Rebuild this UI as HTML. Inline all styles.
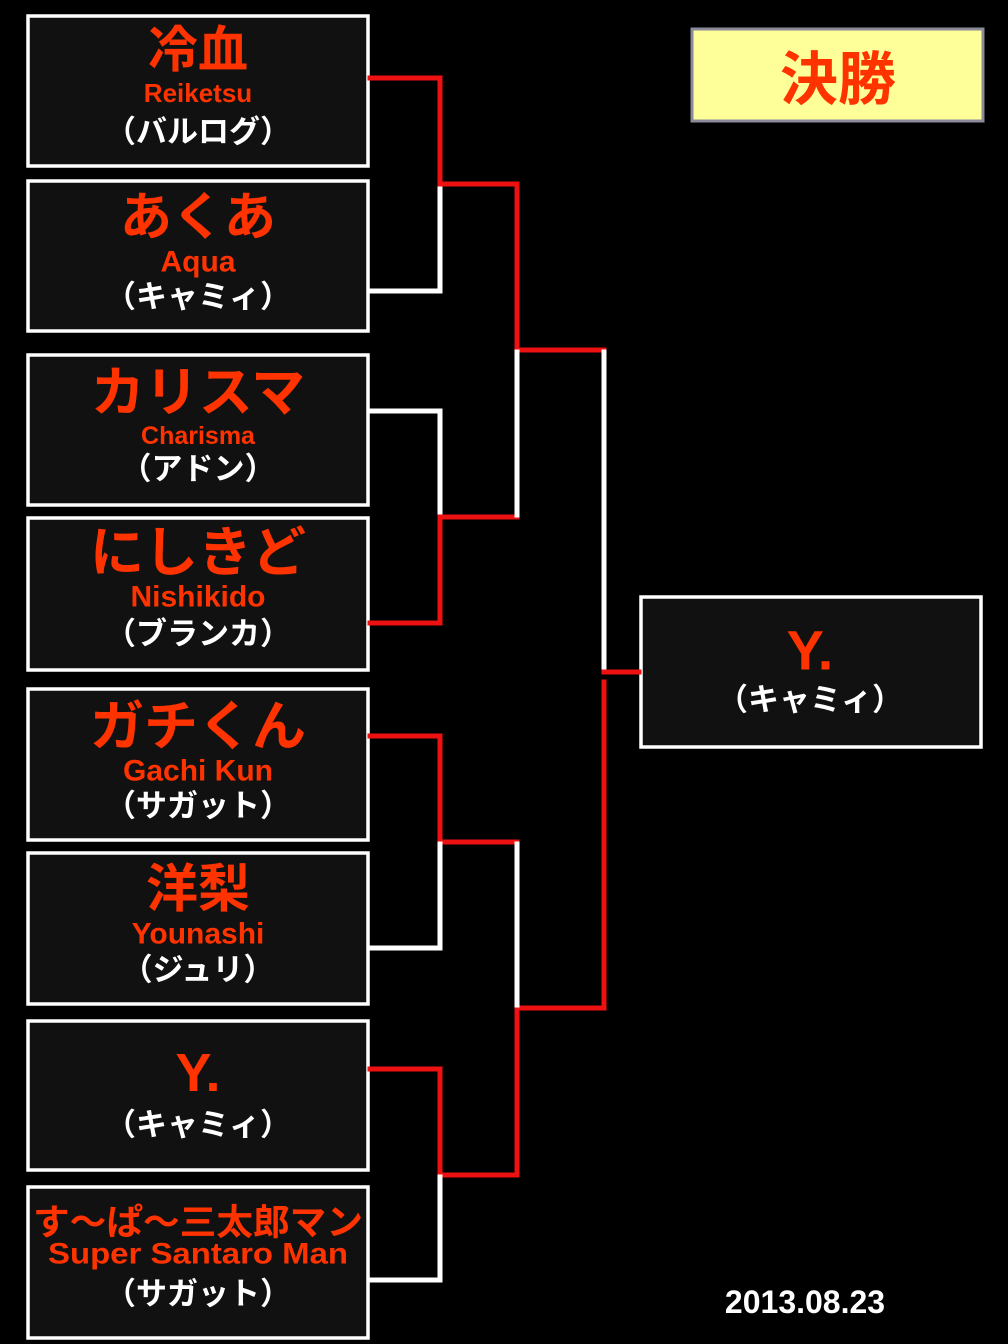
<!DOCTYPE html>
<html><head><meta charset="utf-8"><style>
html,body{margin:0;padding:0;background:#000;}
svg{display:block}
.j{font-family:"Liberation Sans","Noto Sans CJK JP",sans-serif;font-weight:700;fill:#ff3300}
.l{font-family:"Liberation Sans",sans-serif;font-weight:700;fill:#ff3300}
.w{font-family:"Liberation Sans","Noto Sans CJK JP",sans-serif;font-weight:700;fill:#fff}
</style></head><body>
<svg width="1008" height="1344" viewBox="0 0 1008 1344" xmlns="http://www.w3.org/2000/svg">
<rect width="1008" height="1344" fill="#000"/>
<g fill="#111" stroke="#fff" stroke-width="3.5">
<rect x="28" y="16" width="340" height="150"/>
<rect x="28" y="181" width="340" height="150"/>
<rect x="28" y="355" width="340" height="150"/>
<rect x="28" y="518" width="340" height="152"/>
<rect x="28" y="689" width="340" height="151"/>
<rect x="28" y="853" width="340" height="151"/>
<rect x="28" y="1021" width="340" height="149"/>
<rect x="28" y="1187" width="340" height="151"/>
<rect x="641" y="597" width="340" height="150"/>
</g>
<rect x="692" y="29" width="291" height="92" fill="#ffff99" stroke="#8a8a9a" stroke-width="3"/>
<text x="838" y="80" class="j" font-size="58" text-anchor="middle" dominant-baseline="central" fill="#ff0000">決勝</text>
<g fill="none" stroke-width="5" stroke-linecap="square">
<path d="M370 78H440V184" stroke="#ee1111"/>
<path d="M370 291H440V186" stroke="#fff"/>
<path d="M440 184H517V350H604" stroke="#ee1111"/>
<path d="M370 411H440V515" stroke="#fff"/>
<path d="M370 623H440V517H517" stroke="#ee1111"/>
<path d="M517 515V352" stroke="#fff"/>
<path d="M604 352V670" stroke="#fff"/>
<path d="M604 672H639" stroke="#ee1111"/>
<path d="M604 682V1008H519" stroke="#ee1111"/>
<path d="M370 736H440V842H517" stroke="#ee1111"/>
<path d="M370 948H440V844" stroke="#fff"/>
<path d="M517 844V1006" stroke="#fff"/>
<path d="M370 1069H440V1175H517V1010" stroke="#ee1111"/>
<path d="M370 1280H440V1177" stroke="#fff"/>
</g>
<g text-anchor="middle" dominant-baseline="central">
<text x="198" y="50" class="j" font-size="50">冷血</text>
<text x="198" y="93" class="l" font-size="26">Reiketsu</text>
<text x="198" y="132" class="w" font-size="31">（バルログ）</text>

<text x="198" y="218" class="j" font-size="52">あくあ</text>
<text x="198" y="262" class="l" font-size="30">Aqua</text>
<text x="198" y="297" class="w" font-size="31">（キャミィ）</text>

<text x="198" y="393" class="j" font-size="54">カリスマ</text>
<text x="198" y="436" class="l" font-size="25">Charisma</text>
<text x="198" y="469" class="w" font-size="31">（アドン）</text>

<text x="198" y="553" class="j" font-size="54">にしきど</text>
<text x="198" y="597" class="l" font-size="30">Nishikido</text>
<text x="198" y="634" class="w" font-size="31">（ブランカ）</text>

<text x="198" y="727" class="j" font-size="54">ガチくん</text>
<text x="198" y="771" class="l" font-size="30">Gachi Kun</text>
<text x="198" y="806" class="w" font-size="31">（サガット）</text>

<text x="198" y="890" class="j" font-size="52">洋梨</text>
<text x="198" y="934" class="l" font-size="30">Younashi</text>
<text x="198" y="970" class="w" font-size="31">（ジュリ）</text>

<text x="198" y="1073" class="l" font-size="54">Y.</text>
<text x="198" y="1125" class="w" font-size="31">（キャミィ）</text>

<text x="198" y="1222" class="j" font-size="36" textLength="330" lengthAdjust="spacingAndGlyphs">す～ぱ～三太郎マン</text>
<text x="198" y="1254" class="l" font-size="30" textLength="300" lengthAdjust="spacingAndGlyphs">Super Santaro Man</text>
<text x="198" y="1294" class="w" font-size="31">（サガット）</text>

<text x="810" y="650" class="l" font-size="56">Y.</text>
<text x="810" y="700" class="w" font-size="31">（キャミィ）</text>

<text x="805" y="1302" class="w" font-size="32">2013.08.23</text>
</g>
</svg>
</body></html>
